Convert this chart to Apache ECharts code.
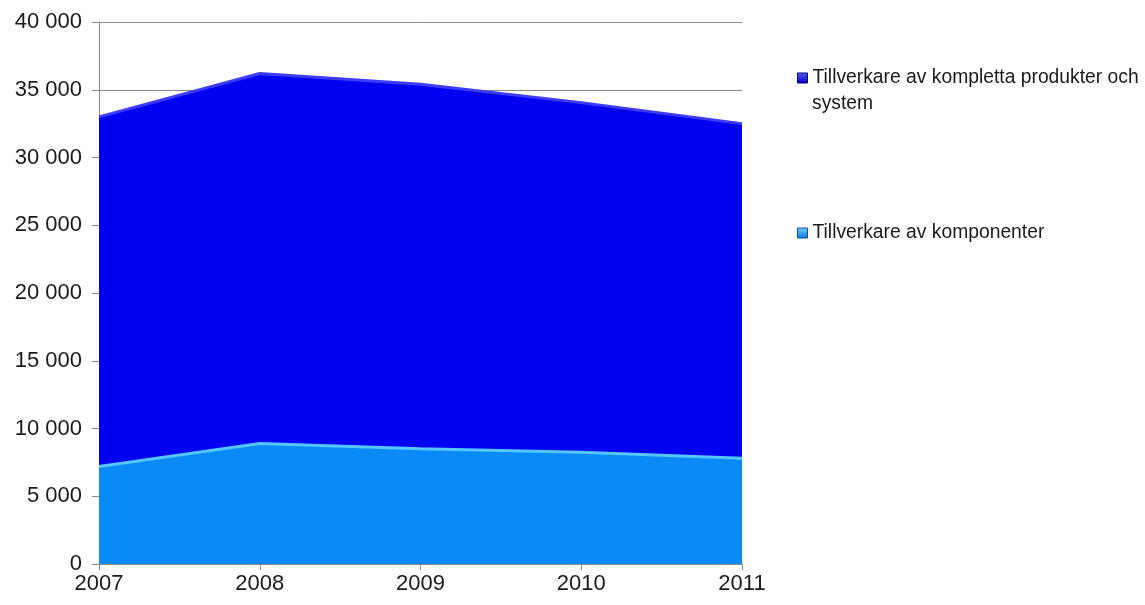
<!DOCTYPE html>
<html>
<head>
<meta charset="utf-8">
<script src="https://cdn.jsdelivr.net/npm/echarts@6/dist/echarts.min.js"></script>
<style>
  html, body { margin: 0; padding: 0; background: #fff; }
  #chart { width: 1145px; height: 605px; }
</style>
</head>
<body>
<div id="chart"></div>
<script>
// Years on the category axis
const years = ['2007', '2008', '2009', '2010', '2011'];
// Employees at component manufacturers (bottom layer)
const komponenter = [7200, 8900, 8500, 8250, 7800];
// Employees at manufacturers of complete products and systems (stacked on top)
const kompletta = [25800, 27300, 26900, 25800, 24700];

const nameKompletta = 'Tillverkare av kompletta produkter och system';
const nameKomponenter = 'Tillverkare av komponenter';

const FONT = '"Liberation Sans", Arial, sans-serif';
const TEXT = '#1a1a1a';

// Space as thousands separator: 35000 -> "35 000"
function fmt(v) {
  return String(v).replace(/\B(?=(\d{3})+(?!\d))/g, ' ');
}

function iconFill(c1, c2) {
  return {
    type: 'linear', x: 0, y: 0, x2: 0, y2: 1,
    colorStops: [{ offset: 0, color: c1 }, { offset: 1, color: c2 }]
  };
}

const legendBase = {
  orient: 'vertical',
  left: 797,
  padding: 0,
  icon: 'rect',
  itemWidth: 10,
  itemHeight: 10,
  selectedMode: false,
  textStyle: { fontFamily: FONT, fontSize: 19.3, color: TEXT, lineHeight: 24 }
};

const chart = echarts.init(document.getElementById('chart'));
chart.setOption({
  animation: false,
  backgroundColor: '#ffffff',
  grid: { left: 99, right: 403, top: 22, bottom: 41 },
  legend: [
    Object.assign({}, legendBase, {
      top: 66,
      data: [{ name: nameKompletta, itemStyle: { color: iconFill('#5a5aff', '#0000c0'), borderColor: '#000080', borderWidth: 1 } }],
      formatter: () => 'Tillverkare av kompletta produkter och'
    }),
    Object.assign({}, legendBase, {
      top: 221,
      data: [{ name: nameKomponenter, itemStyle: { color: iconFill('#7ccfff', '#0a78e0'), borderColor: '#0a4f9a', borderWidth: 1 } }]
    })
  ],
  graphic: [
    {
      type: 'text',
      left: 812,
      top: 92,
      style: { text: 'system', font: '19.3px ' + FONT, fill: TEXT, lineHeight: 24 }
    }
  ],
  xAxis: {
    type: 'category',
    data: years,
    boundaryGap: false,
    axisLine: { lineStyle: { color: '#8a8a8a', width: 1 } },
    axisTick: { show: true, length: 6, alignWithLabel: true, lineStyle: { color: '#8a8a8a' } },
    axisLabel: { fontFamily: FONT, fontSize: 22, color: TEXT, margin: 9 },
    z: 10
  },
  yAxis: {
    type: 'value',
    min: 0, max: 40000, interval: 5000,
    axisLine: { show: true, lineStyle: { color: '#8a8a8a', width: 1 } },
    axisTick: { show: true, length: 7, lineStyle: { color: '#8a8a8a' } },
    axisLabel: { fontFamily: FONT, fontSize: 22, color: TEXT, margin: 17, formatter: fmt },
    splitLine: { show: true, lineStyle: { color: '#8a8a8a', width: 1 } }
  },
  series: [
    {
      name: nameKomponenter,
      type: 'line',
      stack: 'total',
      data: komponenter,
      symbol: 'none',
      lineStyle: { color: '#55c6ff', width: 3 },
      areaStyle: { color: '#0a8af7', opacity: 1 },
      itemStyle: { color: '#0a8af7' },
      z: 3
    },
    {
      name: nameKompletta,
      type: 'line',
      stack: 'total',
      data: kompletta,
      symbol: 'none',
      lineStyle: { color: '#3c3cff', width: 3 },
      areaStyle: { color: '#0202f2', opacity: 1 },
      itemStyle: { color: '#0202f2' },
      z: 2
    }
  ]
});
</script>
</body>
</html>
